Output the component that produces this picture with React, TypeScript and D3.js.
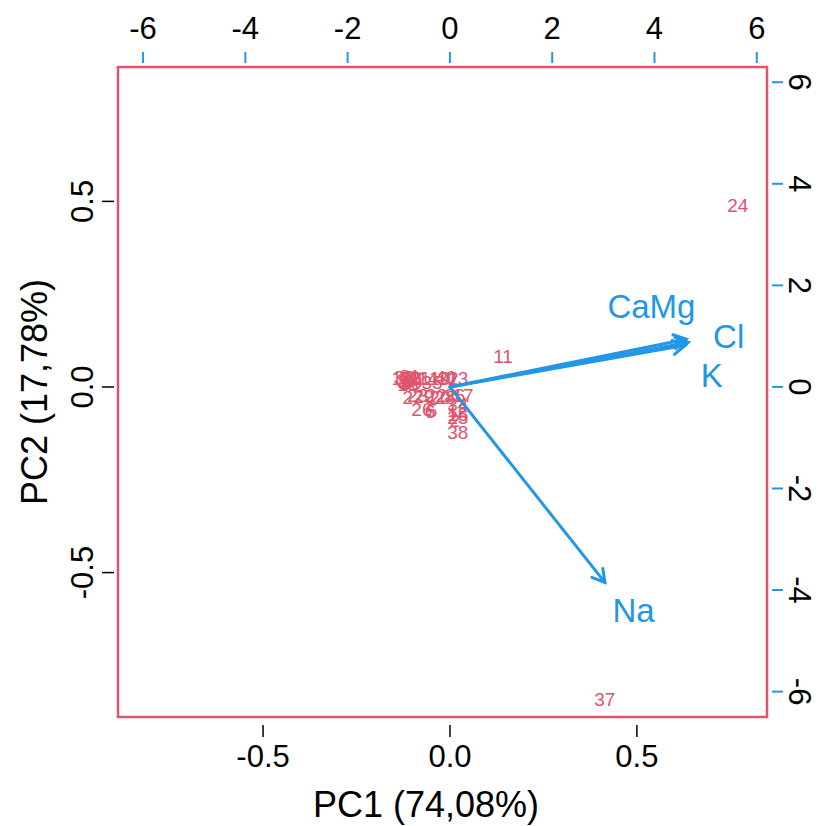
import React, { useEffect, useRef } from 'react';
import * as d3 from 'd3';

// observation scores (PC1, PC2) plotted on bottom/left axes
const obsLabels = [
  '1', '2', '3', '4', '5', '6', '7', '8', '9', '10',
  '11', '12', '13', '14', '15', '16', '17', '18', '19', '20',
  '21', '22', '23', '24', '25', '26', '27', '28', '29', '30',
  '31', '32', '33', '34', '35', '36', '37', '38', '39', '40',
];
const obsPC1 = [
  -0.123, 0.013, -0.126, -0.086, -0.048, -0.053, -0.118, -0.110, -0.120, -0.027,
  0.142, 0.021, 0.021, -0.059, 0.021, -0.102, 0.035, -0.112, -0.128, -0.027,
  -0.080, -0.037, -0.086, 0.770, 0.021, -0.075, -0.099, -0.013, -0.070, -0.115,
  -0.107, -0.005, -0.123, 0.021, -0.048, 0.013, 0.414, 0.021, -0.104, -0.011,
];
const obsPC2 = [
  0.019, -0.089, 0.013, 0.019, -0.062, -0.065, 0.024, 0.016, 0.011, 0.024,
  0.083, -0.062, 0.024, 0.022, -0.073, 0.022, -0.022, 0.008, 0.022, -0.027,
  0.024, -0.022, -0.022, 0.489, -0.083, -0.059, -0.027, -0.027, -0.024, 0.019,
  0.030, 0.022, 0.027, -0.048, 0.013, -0.022, -0.841, -0.121, 0.011, 0.027,
];

// variable loadings (top/right axes)
const varNames = ['CaMg', 'Cl', 'K', 'Na'];
const arrowX = [4.62, 4.66, 4.6, 3.03];
const arrowY = [0.94, 0.88, 0.82, -3.85];
const varLabelX = [3.94, 5.45, 5.12, 3.59];
const varLabelY = [1.59, 1.0, 0.22, -4.41];

const primaryTicks = [-0.5, 0, 0.5];
const secondaryTicks = [-6, -4, -2, 0, 2, 4, 6];
const xTitle = 'PC1 (74,08%)';
const yTitle = 'PC2 (17,78%)';

const RED = '#DF536B';
const BLUE = '#2297E6';
const FONT = 'Liberation Sans, Arial, sans-serif';

const App = () => {
  const svgRef = useRef(null);

  useEffect(() => {
    const svg = d3.select(svgRef.current);
    svg.selectAll('*').remove();

    const left = 118, right = 767, top = 67, bottom = 717;

    const x = d3.scaleLinear().domain([-0.888, 0.848]).range([left, right]);
    const y = d3.scaleLinear().domain([-0.889, 0.862]).range([bottom, top]);
    const x2 = d3.scaleLinear().domain([-6.49, 6.2]).range([left, right]);
    const y2 = d3.scaleLinear().domain([-6.5, 6.3]).range([bottom, top]);

    // R-style labels use a plain hyphen for the minus sign
    const fmt = d => d.toFixed(1);
    const tickFont = 31;

    // bottom axis
    const bx = svg.append('g');
    bx.selectAll('line').data(primaryTicks).enter().append('line')
      .attr('x1', d => x(d)).attr('x2', d => x(d))
      .attr('y1', bottom + 8).attr('y2', bottom + 20)
      .attr('stroke', '#000').attr('stroke-width', 1.5);
    bx.selectAll('text').data(primaryTicks).enter().append('text')
      .attr('x', d => x(d)).attr('y', 767)
      .attr('text-anchor', 'middle')
      .attr('font-size', tickFont).attr('font-family', FONT)
      .text(d => fmt(d));

    // left axis
    const ly = svg.append('g');
    ly.selectAll('line').data(primaryTicks).enter().append('line')
      .attr('y1', d => y(d)).attr('y2', d => y(d))
      .attr('x1', left - 4).attr('x2', left - 16)
      .attr('stroke', '#000').attr('stroke-width', 1.5);
    ly.selectAll('text').data(primaryTicks).enter().append('text')
      .attr('transform', d => `translate(93,${y(d)}) rotate(-90)`)
      .attr('text-anchor', 'middle')
      .attr('font-size', tickFont).attr('font-family', FONT)
      .text(d => fmt(d));

    // top axis
    const tx = svg.append('g');
    tx.selectAll('line').data(secondaryTicks).enter().append('line')
      .attr('x1', d => x2(d)).attr('x2', d => x2(d))
      .attr('y1', top - 4).attr('y2', top - 15)
      .attr('stroke', BLUE).attr('stroke-width', 2);
    tx.selectAll('text').data(secondaryTicks).enter().append('text')
      .attr('x', d => x2(d)).attr('y', 39)
      .attr('text-anchor', 'middle')
      .attr('font-size', tickFont).attr('font-family', FONT)
      .text(d => String(d));

    // right axis
    const ry = svg.append('g');
    ry.selectAll('line').data(secondaryTicks).enter().append('line')
      .attr('y1', d => y2(d)).attr('y2', d => y2(d))
      .attr('x1', right + 5).attr('x2', right + 16)
      .attr('stroke', BLUE).attr('stroke-width', 2);
    ry.selectAll('text').data(secondaryTicks).enter().append('text')
      .attr('transform', d => `translate(789,${y2(d)}) rotate(90)`)
      .attr('text-anchor', 'middle')
      .attr('font-size', tickFont).attr('font-family', FONT)
      .text(d => String(d));

    // titles
    svg.append('text')
      .attr('x', 426).attr('y', 817)
      .attr('text-anchor', 'middle')
      .attr('font-size', 36).attr('font-family', FONT)
      .text(xTitle);
    svg.append('text')
      .attr('transform', `translate(47,${(top + bottom) / 2}) rotate(-90)`)
      .attr('text-anchor', 'middle')
      .attr('font-size', 36).attr('font-family', FONT)
      .text(yTitle);

    // observation labels
    svg.append('g').selectAll('text')
      .data(obsLabels.map((l, i) => ({ l, a: obsPC1[i], b: obsPC2[i] })))
      .enter().append('text')
      .attr('x', d => x(d.a)).attr('y', d => y(d.b))
      .attr('dy', '0.35em')
      .attr('text-anchor', 'middle')
      .attr('font-size', 19).attr('font-family', FONT)
      .attr('fill', RED)
      .text(d => d.l);

    // arrows
    const ag = svg.append('g').attr('stroke', BLUE).attr('stroke-width', 3)
      .attr('fill', 'none').attr('stroke-linecap', 'round');
    varNames.forEach((v, i) => {
      const x0 = x2(0), y0 = y2(0);
      const x1 = x2(arrowX[i]), y1 = y2(arrowY[i]);
      ag.append('line').attr('x1', x0).attr('y1', y0).attr('x2', x1).attr('y2', y1);
      const ang = Math.atan2(y1 - y0, x1 - x0);
      const len = 14, spread = Math.PI / 6;
      const p = d3.path();
      p.moveTo(x1 - len * Math.cos(ang - spread), y1 - len * Math.sin(ang - spread));
      p.lineTo(x1, y1);
      p.lineTo(x1 - len * Math.cos(ang + spread), y1 - len * Math.sin(ang + spread));
      ag.append('path').attr('d', p.toString());
    });

    svg.append('g').selectAll('text')
      .data(varNames.map((n, i) => ({ n, a: varLabelX[i], b: varLabelY[i] })))
      .enter().append('text')
      .attr('x', d => x2(d.a)).attr('y', d => y2(d.b))
      .attr('dy', '0.35em')
      .attr('text-anchor', 'middle')
      .attr('font-size', 33).attr('font-family', FONT)
      .attr('fill', BLUE)
      .text(d => d.n);

    // plot box
    svg.append('rect')
      .attr('x', left).attr('y', top)
      .attr('width', right - left).attr('height', bottom - top)
      .attr('fill', 'none').attr('stroke', RED).attr('stroke-width', 2.5);
  }, []);

  return (
    <div style={{ position: 'absolute', left: 0, top: 0 }}>
      <svg ref={svgRef} width={821} height={826} style={{ display: 'block', background: '#fff' }}></svg>
    </div>
  );
};

export default App;
